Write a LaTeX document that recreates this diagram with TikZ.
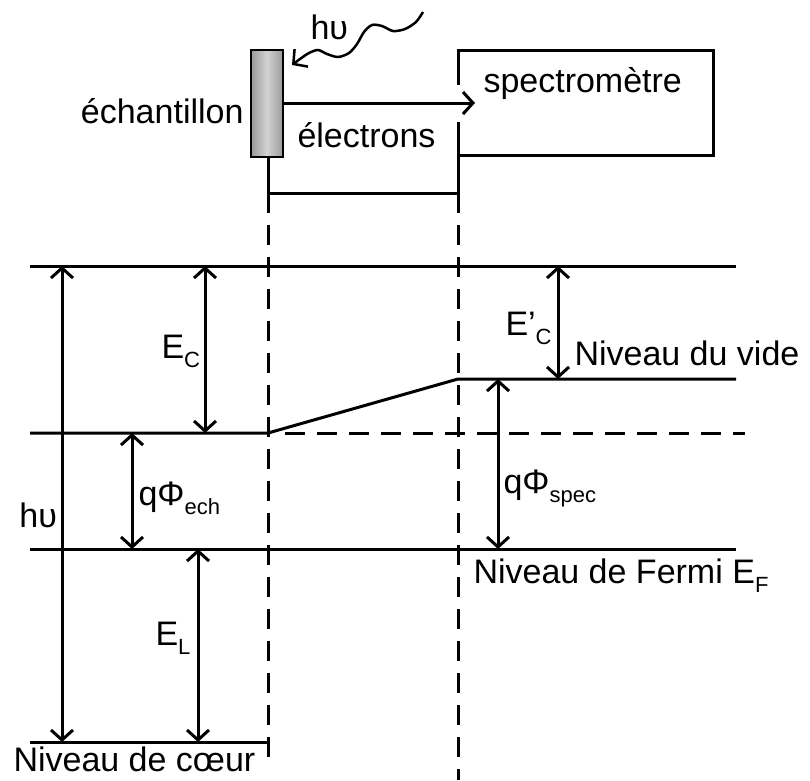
\documentclass[tikz,border=0pt]{standalone}
\usepackage{fontspec}
\setmainfont{Liberation Sans}
\usetikzlibrary{arrows.meta, positioning}

\newcommand{\lowsub}[1]{\raisebox{-9pt}{\fontsize{22}{22}\selectfont #1}}

\begin{document}
\begin{tikzpicture}[
  x=1pt, y=-1pt, line width=3pt,
  >={Straight Barb[length=10pt, width=22pt]},
  lbl/.style={font=\fontsize{34}{40}\selectfont, inner sep=0pt},
  gapline/.style={dash pattern=on 20pt off 12pt},
  gaparrow/.style={<->},
  sample/.style={draw, line width=1.5pt, minimum width=32pt, minimum height=107pt,
                 inner sep=0pt, left color=gray!80, right color=gray!80, middle color=gray!35}
]
  \useasboundingbox (0,0) rectangle (810,780);

  % set-up: sample, wire, spectrometer
  \node[sample] (ech) at (267,103.5) {};
  \coordinate (wA) at (268,193);
  \coordinate (wB) at (458,193);
  \coordinate (slitlo) at (458,122);
  \coordinate (slithi) at (458,85);
  \coordinate (spNW) at (458,50);
  \coordinate (spSE) at (713,155);
  \draw (ech.south -| wA) -- (wA) -- (wB) -- (slitlo);
  \draw (slithi) -- (spNW) -| (spSE) -- (spSE -| spNW);
  \coordinate (eTip) at (475,103);
  \draw[->] (ech.east |- eTip) -- (eTip);

  \coordinate (wStart) at (423,12);
  \coordinate (wEnd) at (292,65);
  \draw[->, line width=2.5pt] plot[smooth] coordinates {(wStart) (416,22) (405,29) (393,31) (382,26)
        (372,25) (364,32) (357,44) (349,53) (338,57) (327,54) (318,50) (309,53) (300,59) (wEnd)};

  \node[lbl, anchor=base east] (lEch) at (245,123) {échantillon};
  \node[lbl, anchor=base west] (lEl) at (296,147) {électrons};
  \node[lbl, anchor=base west] (lSp) at (482,92) {spectromètre};
  \node[lbl, anchor=base west] (lHv) at (309,39) {hυ};

  % levels
  \coordinate (topL) at (30,266);   \coordinate (topR) at (736,266);
  \coordinate (vacL) at (30,433);   \coordinate (vacK) at (268,433);
  \coordinate (vacS) at (458,379);  \coordinate (vacR) at (736,379);
  \coordinate (ferL) at (30,549);   \coordinate (ferR) at (736,549);
  \coordinate (corL) at (30,742);   \coordinate (corR) at (268,742);
  \draw (topL) -- (topR);
  \draw (vacL) -- (vacK) -- (vacS) -- (vacR);
  \draw (ferL) -- (ferR);
  \draw (corL) -- (corR);
  \draw[gapline] (285,433) -- (745,433);
  \draw[gapline] (wA) -- (268,766);
  \draw[gapline] (wB) -- (458,780);

  % energy gaps
  \draw[gaparrow] (62,742) -- (62,266);
  \draw[gaparrow] (205,266) -- (205,433);
  \draw[gaparrow] (132,433) -- (132,549);
  \draw[gaparrow] (198,549) -- (198,742);
  \draw[gaparrow] (558,266) -- (558,379);
  \draw[gaparrow] (498,379) -- (498,549);

  \node[lbl, anchor=base west] (lHv2) at (18,527) {hυ};
  \node[lbl, anchor=base west] (lEc) at (160,358) {E\lowsub{C}};
  \node[lbl, anchor=base west] (lPe) at (137,505) {qΦ\lowsub{ech}};
  \node[lbl, anchor=base west] (lEL) at (154,645) {E\lowsub{L}};
  \node[lbl, anchor=base west] (lEc2) at (504,335) {E’\lowsub{C}};
  \node[lbl, anchor=base west] (lPs) at (502,493) {qΦ\lowsub{spec}};
  \node[lbl, anchor=base west] (lVide) at (573,365) {Niveau du vide};
  \node[lbl, anchor=base west] (lFermi) at (472,583) {Niveau de Fermi E\lowsub{F}};
  \node[lbl, anchor=base west] (lCoeur) at (12,771) {Niveau de cœur};
\end{tikzpicture}
\end{document}
